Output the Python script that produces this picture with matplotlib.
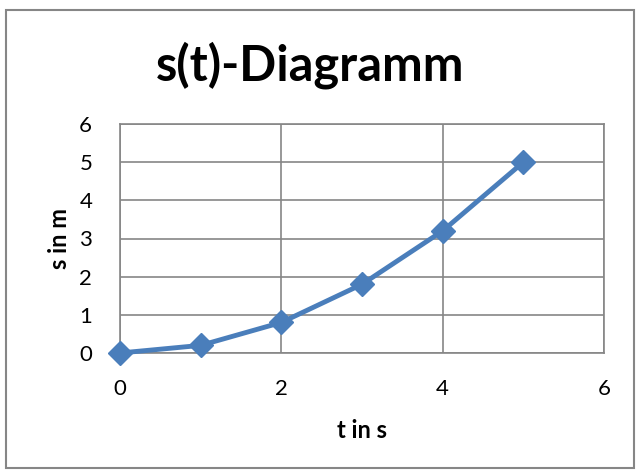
import matplotlib.pyplot as plt
from matplotlib.patches import Rectangle

# data
t = [0, 1, 2, 3, 4, 5]
s = [0, 0.2, 0.8, 1.8, 3.2, 5.0]
xticks = [0, 2, 4, 6]
yticks = [0, 1, 2, 3, 4, 5, 6]

plt.rcParams['font.family'] = ['Lato', 'DejaVu Sans']

fig = plt.figure(figsize=(6.36, 4.71), dpi=100)
# outer chart border
fig.patches.append(Rectangle((6 / 636, 3 / 471), 628 / 636, 458 / 471,
                             transform=fig.transFigure, fill=False,
                             edgecolor='#868686', linewidth=1.5))

ax = fig.add_axes([120 / 636, 118 / 471, 484 / 636, 229 / 471])
ax.plot(t, s, color='#4A7EBB', linewidth=3.5, marker='D', markersize=12,
        clip_on=False, zorder=3)

ax.set_xlim(0, 6)
ax.set_ylim(0, 6)
ax.set_xticks(xticks)
ax.set_yticks(yticks)
ax.grid(True, color='#868686', linewidth=1.2)
ax.set_axisbelow(True)
for sp in ax.spines.values():
    sp.set_color('#868686')
    sp.set_linewidth(1.2)
ax.tick_params(length=0, labelsize=16, colors='black')
ax.tick_params(axis='x', pad=19)
ax.tick_params(axis='y', pad=20)

ax.set_xlabel('t in s', fontsize=17, fontweight='bold', labelpad=14)
ax.set_ylabel('s in m', fontsize=17, fontweight='bold', labelpad=6)
fig.text(310 / 636, 1 - 65 / 471, 's(t)-Diagramm', ha='center', va='center',
         fontsize=35, fontweight='bold')

fig.savefig('out.png', dpi=100)
